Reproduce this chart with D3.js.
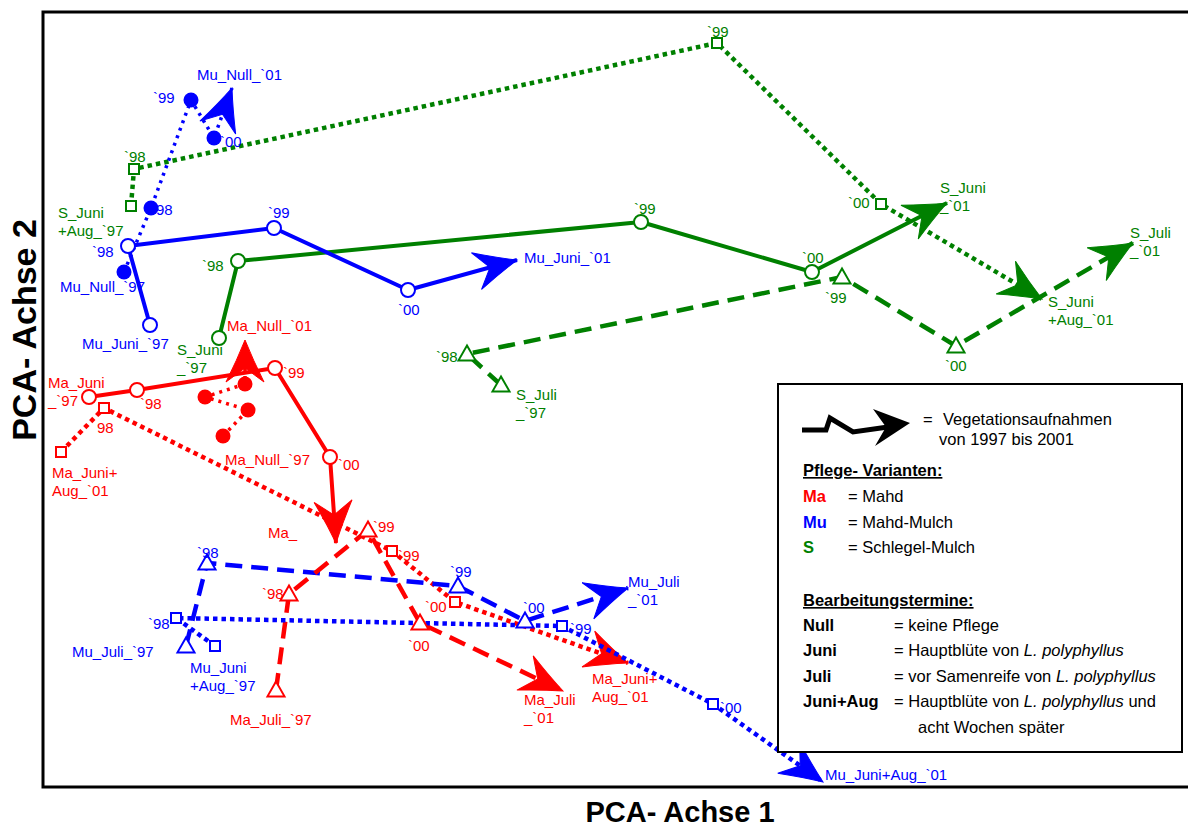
<!DOCTYPE html>
<html>
<head>
<meta charset="utf-8">
<script src="https://cdn.jsdelivr.net/npm/d3@7"></script>
<style>
  body { margin: 0; background: #fff; }
  text { font-family: "Liberation Sans", Arial, sans-serif; }
</style>
</head>
<body>
<div id="chart"></div>
<script>
var svgWidth = 1188;
var svgHeight = 830;

// plot frame
var frame = { left: 43, top: 12, right: 1200, bottom: 787 };

// PCA scores, one array per variant, `97 .. `01 (last one = arrow tip)
var years = ["`97", "`98", "`99", "`00", "`01"];

var muNull = [[-4.76, 1.28], [-4.49, 1.92], [-4.09, 3.00], [-3.86, 2.62], [-3.68, 3.12]];
var muJuni = [[-4.50, 0.75], [-4.72, 1.54], [-3.26, 1.72], [-1.92, 1.10], [-0.83, 1.40]];
var muJuli = [[-4.14, -2.46], [-3.93, -1.63], [-1.42, -1.86], [-0.75, -2.21], [0.28, -1.88]];
var muJuniAug = [[-3.85, -2.46], [-4.24, -2.18], [-0.38, -2.26], [1.13, -3.04], [2.23, -3.82]];

var maNull = [[-3.77, -0.36], [-3.52, -0.10], [-3.95, 0.03], [-3.55, 0.16], [-3.55, 0.60]];
var maJuni = [[-5.11, 0.03], [-4.63, 0.10], [-3.25, 0.32], [-2.70, -0.57], [-2.64, -1.43]];
var maJuli = [[-3.24, -2.90], [-3.11, -1.94], [-2.32, -1.30], [-1.80, -2.23], [-0.37, -2.91]];
var maJuniAug = [[-5.39, -0.52], [-4.96, -0.08], [-2.08, -1.51], [-1.45, -2.02], [0.28, -2.63]];

var sJuni = [[-3.81, 0.62], [-3.62, 1.39], [0.41, 1.78], [2.12, 1.28], [3.47, 1.97]];
var sJuli = [[-0.99, 0.15], [-1.33, 0.46], [2.42, 1.23], [3.56, 0.54], [5.33, 1.57]];
var sJuniAug = [[-4.69, 1.94], [-4.66, 2.31], [1.17, 3.57], [2.81, 1.96], [4.42, 1.01]];

// point labels ("\n" = second line)
var muNullLabels = ["Mu_Null_`97", "98", "`99", "`00", "Mu_Null_`01"];
var muJuniLabels = ["Mu_Juni_`97", "`98", "`99", "`00", "Mu_Juni_`01"];
var muJuliLabels = ["Mu_Juli_`97", "`98", "`99", "`00", "Mu_Juli\n_`01"];
var muJuniAugLabels = ["Mu_Juni\n+Aug_`97", "`98", "`99", "`00", "Mu_Juni+Aug_`01"];
var maNullLabels = ["Ma_Null_`97", "", "", "", "Ma_Null_`01"];
var maJuniLabels = ["Ma_Juni\n_`97", "`98", "`99", "`00", "Ma_"];
var maJuliLabels = ["Ma_Juli_`97", "`98", "`99", "`00", "Ma_Juli\n_`01"];
var maJuniAugLabels = ["Ma_Juni+\nAug_`01", "98", "`99", "`00", "Ma_Juni+\nAug_`01"];
var sJuniLabels = ["S_Juni\n_`97", "`98", "`99", "`00", "S_Juni\n_`01"];
var sJuliLabels = ["S_Juli\n_`97", "`98", "`99", "`00", "S_Juli\n_`01"];
var sJuniAugLabels = ["S_Juni\n+Aug_`97", "`98", "`99", "`00", "S_Juni\n+Aug_`01"];

var series = [
  { v: "S", t: "Juni+Aug", pts: sJuniAug, labels: sJuniAugLabels },
  { v: "S", t: "Juli", pts: sJuli, labels: sJuliLabels },
  { v: "S", t: "Juni", pts: sJuni, labels: sJuniLabels },
  { v: "Mu", t: "Null", pts: muNull, labels: muNullLabels },
  { v: "Mu", t: "Juni", pts: muJuni, labels: muJuniLabels },
  { v: "Ma", t: "Juni+Aug", pts: maJuniAug, labels: maJuniAugLabels },
  { v: "Ma", t: "Null", pts: maNull, labels: maNullLabels },
  { v: "Ma", t: "Juni", pts: maJuni, labels: maJuniLabels },
  { v: "Mu", t: "Juli", pts: muJuli, labels: muJuliLabels },
  { v: "Ma", t: "Juli", pts: maJuli, labels: maJuliLabels },
  { v: "Mu", t: "Juni+Aug", pts: muJuniAug, labels: muJuniAugLabels }
];

// label placement (pixel offsets from the point, text start / baseline)
var labelPos = {
  "Mu_Null": [[-64, 20], [5, 7], [-38, 3], [6, 9], [-35, -8]],
  "Mu_Juni": [[-68, 24], [-36, 11], [-6, -10], [-10, 25], [7, 3]],
  "Mu_Juli": [[-114, 11], [-10, -5], [-8, -9], [-2, -8], [0, -1]],
  "Mu_Juni+Aug": [[-25, 27], [-28, 11], [8, 8], [7, 9], [2, -2]],
  "Ma_Null": [[2, 29], null, null, null, [-18, -9]],
  "Ma_Juni": [[-41, -9], [3, 19], [8, 10], [8, 13], [-68, -5]],
  "Ma_Juli": [[-46, 35], [-27, 5], [5, 2], [-12, 28], [-39, 14]],
  "Ma_Juni+Aug": [[-9, 26], [-7, 25], [6, 10], [-30, 10], [-36, 21]],
  "S_Juni": [[-42, 17], [-36, 10], [-7, -8], [-10, -9], [-7, -10]],
  "S_Juli": [[15, 15], [-31, 8], [-17, 26], [-11, 25], [-3, -5]],
  "S_Juni+Aug": [[-73, 12], [-10, -7], [-10, -6], [-33, 4], [6, 8]]
};

var colors = { "Ma": "#ff0000", "Mu": "#0000ff", "S": "#008000" };

var lineStyle = {
  "Null": { dash: "3,5", width: 3.5 },
  "Juni": { dash: null, width: 4 },
  "Juli": { dash: "17,9", width: 4.5 },
  "Juni+Aug": { dash: "4.5,4", width: 4.5 }
};

var svg = d3.select("#chart")
  .append("svg")
  .attr("width", svgWidth)
  .attr("height", svgHeight);

var xScale = d3.scaleLinear().domain([-5.57, 5.88]).range([43, 1188]);
var yScale = d3.scaleLinear().domain([-3.87, 3.88]).range([787, 12]);

// frame
svg.append("rect")
  .attr("x", frame.left)
  .attr("y", frame.top)
  .attr("width", frame.right - frame.left)
  .attr("height", frame.bottom - frame.top)
  .attr("fill", "none")
  .attr("stroke", "#000")
  .attr("stroke-width", 3);

var plot = svg.append("g");

var line = d3.line()
  .x(d => xScale(d[0]))
  .y(d => yScale(d[1]));

function arrowHead(g, p0, p1, color) {
  var x0 = xScale(p0[0]), y0 = yScale(p0[1]);
  var x1 = xScale(p1[0]), y1 = yScale(p1[1]);
  var ang = Math.atan2(y1 - y0, x1 - x0) * 180 / Math.PI;
  g.append("path")
    .attr("d", "M0,0 Q-20,-8 -42,-19 L-28,0 L-42,19 Q-20,8 0,0 Z")
    .attr("transform", `translate(${x1},${y1}) rotate(${ang})`)
    .attr("fill", color)
    .attr("stroke", color)
    .attr("stroke-width", 1);
}

function drawMarker(g, t, x, y, color) {
  if (t === "Null") {
    g.append("circle").attr("cx", x).attr("cy", y).attr("r", 7.5)
      .attr("fill", color);
  } else if (t === "Juni") {
    g.append("circle").attr("cx", x).attr("cy", y).attr("r", 7)
      .attr("fill", "#fff").attr("stroke", color).attr("stroke-width", 2);
  } else if (t === "Juli") {
    var s = 8.5;
    g.append("path")
      .attr("d", `M${x},${y - s} L${x + s},${y + s * 0.75} L${x - s},${y + s * 0.75} Z`)
      .attr("fill", "#fff").attr("stroke", color).attr("stroke-width", 2);
  } else {
    g.append("rect").attr("x", x - 5).attr("y", y - 5).attr("width", 10).attr("height", 10)
      .attr("fill", "#fff").attr("stroke", color).attr("stroke-width", 2);
  }
}

// lines + arrows first
series.forEach(function(s) {
  var col = colors[s.v];
  var st = lineStyle[s.t];
  plot.append("path")
    .datum(s.pts)
    .attr("d", line)
    .attr("fill", "none")
    .attr("stroke", col)
    .attr("stroke-width", st.width)
    .attr("stroke-dasharray", st.dash)
    .attr("stroke-linejoin", "round");
  arrowHead(plot, s.pts[3], s.pts[4], col);
});

// markers
series.forEach(function(s) {
  s.pts.slice(0, 4).forEach(function(p) {
    drawMarker(plot, s.t, xScale(p[0]), yScale(p[1]), colors[s.v]);
  });
});

// labels
series.forEach(function(s) {
  var key = s.v + "_" + s.t;
  var pos = labelPos[key];
  s.labels.forEach(function(lab, i) {
    if (!lab || !pos[i]) return;
    var x = xScale(s.pts[i][0]) + pos[i][0];
    var y = yScale(s.pts[i][1]) + pos[i][1];
    var txt = plot.append("text")
      .attr("x", x).attr("y", y)
      .attr("font-size", "15px")
      .attr("fill", colors[s.v]);
    lab.split("\n").forEach(function(part, j) {
      txt.append("tspan").attr("x", x).attr("dy", j === 0 ? 0 : 18).text(part);
    });
  });
});

// axis titles
svg.append("text")
  .attr("x", 680).attr("y", 822)
  .attr("text-anchor", "middle")
  .attr("font-size", "29px")
  .attr("font-weight", "bold")
  .text("PCA- Achse 1");

svg.append("text")
  .attr("transform", "translate(36, 330) rotate(-90)")
  .attr("text-anchor", "middle")
  .attr("font-size", "34px")
  .attr("font-weight", "bold")
  .text("PCA- Achse 2");

// legend
var legend = svg.append("g");
legend.append("rect")
  .attr("x", 778).attr("y", 384)
  .attr("width", 404).attr("height", 368)
  .attr("fill", "#fff")
  .attr("stroke", "#000")
  .attr("stroke-width", 2);

legend.append("path")
  .attr("d", "M802,430 L826,430 L830,418 L853,432 L888,427")
  .attr("fill", "none").attr("stroke", "#000").attr("stroke-width", 5);
legend.append("path")
  .attr("d", "M910,423 L873,409 L886,427 L875,446 Z")
  .attr("fill", "#000");

function legText(x, y, str, opts) {
  opts = opts || {};
  return legend.append("text")
    .attr("x", x).attr("y", y)
    .attr("font-size", "16.5px")
    .attr("font-weight", opts.bold ? "bold" : null)
    .attr("text-decoration", opts.underline ? "underline" : null)
    .attr("fill", opts.color || "#000")
    .text(str);
}

legText(923, 425, "=");
legText(943, 425, "Vegetationsaufnahmen");
legText(939, 445, "von 1997 bis 2001");

legText(803, 476, "Pflege- Varianten:", { bold: true, underline: true });
var varianten = ["= Mahd", "= Mahd-Mulch", "= Schlegel-Mulch"];
var pflege = ["Ma", "Mu", "S"];
pflege.forEach(function(p, i) {
  legText(803, 502 + i * 25.5, p, { bold: true, color: colors[p] });
  legText(848, 502 + i * 25.5, varianten[i]);
});

legText(803, 606, "Bearbeitungstermine:", { bold: true, underline: true });
var termine = ["Null", "Juni", "Juli", "Juni+Aug"];
var termineText = [
  ["= keine Pflege"],
  ["= Hauptblüte von ", "L. polyphyllus"],
  ["= vor Samenreife von ", "L. polyphyllus"],
  ["= Hauptblüte von ", "L. polyphyllus", " und"]
];
termine.forEach(function(t, i) {
  var y = 631 + i * 25.3;
  legText(803, y, t, { bold: true });
  var tx = legText(894, y, "");
  termineText[i].forEach(function(part, j) {
    tx.append("tspan")
      .attr("font-style", j === 1 ? "italic" : null)
      .text(part);
  });
});
legText(918, 733, "acht Wochen später");
</script>
</body>
</html>
